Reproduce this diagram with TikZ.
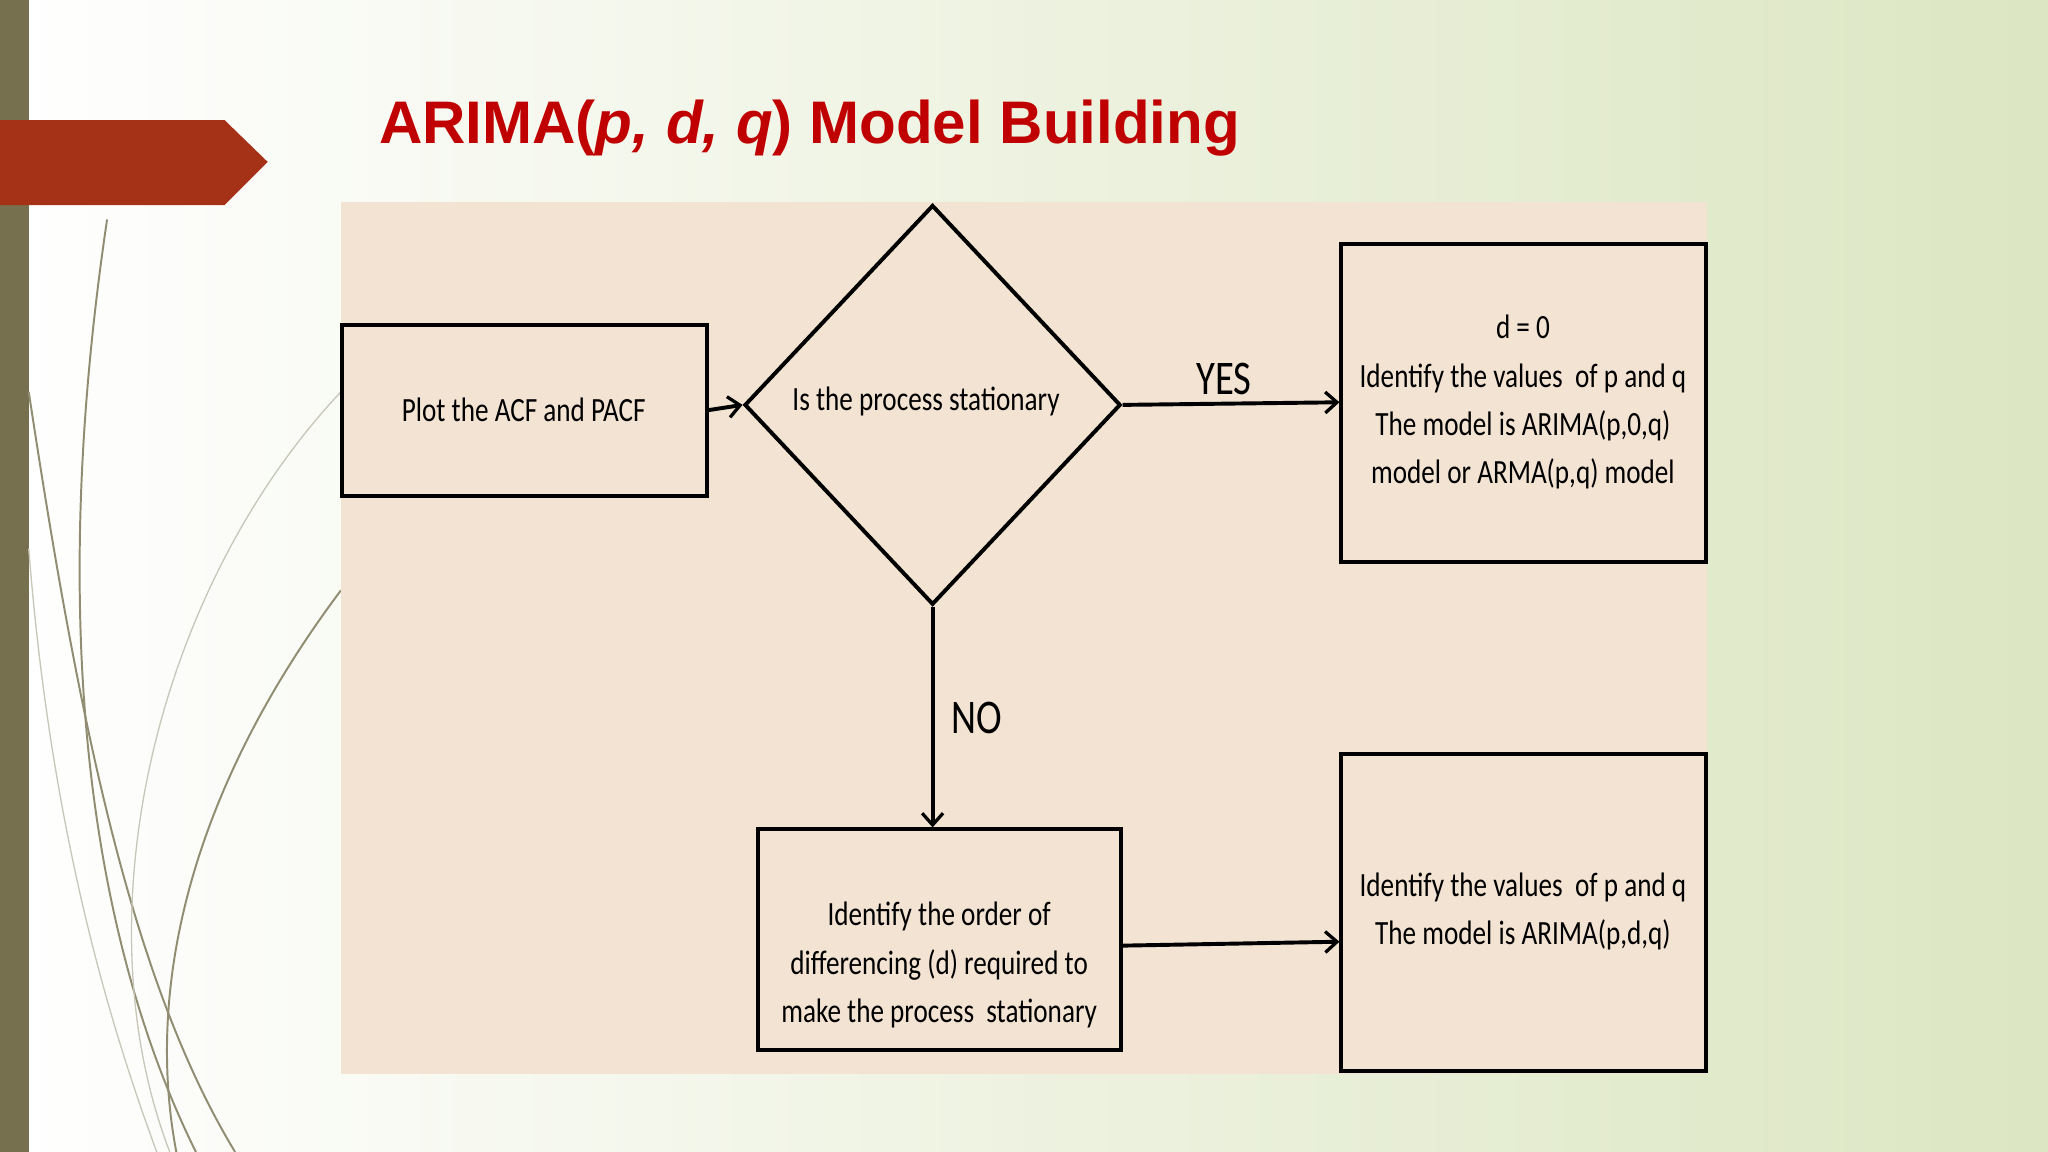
\documentclass[tikz,border=0pt]{standalone}
\usepackage{fontspec}
\setmainfont{Carlito}[FakeStretch=0.8]
\newfontfamily\titlef{Liberation Sans}
\usetikzlibrary{shapes.geometric,arrows.meta}
\definecolor{peach}{HTML}{F3E3D2}
\definecolor{titred}{HTML}{C00000}
\definecolor{barc}{HTML}{76704F}
\definecolor{arrc}{HTML}{A53117}
\definecolor{bgg}{HTML}{DCE6C2}
\begin{document}
\begin{tikzpicture}[x=1pt,y=-1pt,
  box/.style={draw=black,line width=3pt,fill=peach,inner sep=0pt},
  txt/.style={align=center,font=\fontsize{26}{37}\selectfont,inner sep=0pt},
  conn/.style={line width=3pt,-{Straight Barb[length=9pt,width=16pt,line width=2.5pt]}},
  lbl/.style={font=\fontsize{37}{40}\selectfont}]
\useasboundingbox (0,0) rectangle (1568,882);
\shade[left color=white,right color=bgg] (0,0) rectangle (1568,882);
\fill[barc] (0,0) rectangle (22,882);
% decorative curves
\begin{scope}[barc!80,line width=1.5pt]
\draw (82,168) .. controls (40,450) and (60,700) .. (150,882);
\draw (22,300) .. controls (60,550) and (100,750) .. (180,882);
\draw[line width=1pt,barc!40] (261,300) .. controls (120,450) and (60,700) .. (130,882);
\draw (261,452) .. controls (150,600) and (110,750) .. (135,882);
\draw[line width=1pt,barc!40] (22,420) .. controls (40,650) and (90,800) .. (120,882);
\end{scope}
\fill[arrc] (0,92) -- (172,92) -- (205,124) -- (172,157) -- (0,157) -- cycle;
\node[anchor=base west,text=titred,font=\titlef\bfseries\fontsize{46}{50}\selectfont,inner sep=0pt] (title) at (290,110) {ARIMA(\textit{p, d, q}) Model Building};
\fill[peach] (261,155) rectangle (1307,822);
\node[box,minimum width=279pt,minimum height=131pt] (plot) at (401.5,314.5) {};
\node[txt] (plott) at (401,314) {Plot the ACF and PACF};
\node[draw=black,line width=3pt,diamond,shape aspect=0.94,minimum width=288pt,minimum height=306pt,inner sep=0pt] (dia) at (714,310) {};
\node[txt] (diat) at (709,307) {Is the process stationary};
\node[box,minimum width=279pt,minimum height=243pt] (yes) at (1166.5,308.5) {};
\node[txt] (yest) at (1166,308) {d = 0\\Identify the values \ of p and q\\The model is ARIMA(p,0,q)\\model or ARMA(p,q) model};
\node[box,minimum width=278pt,minimum height=169pt] (diff) at (719,719.5) {};
\node[txt] (difft) at (719,739) {Identify the order of\\differencing (d) required to\\make the process \ stationary};
\node[box,minimum width=279pt,minimum height=243pt] (arima) at (1166.5,698.5) {};
\node[txt] (arimat) at (1166,698) {Identify the values \ of p and q\\The model is ARIMA(p,d,q)};
\draw[conn] (plot.east |- 0,314) -- (dia.west);
\draw[conn] (dia.east) -- (yes.west |- 0,308);
\draw[conn] (dia.south) -- (diff.north -| dia.south);
\draw[conn] (diff.east |- 0,724) -- (arima.west |- 0,721);
\node[lbl] (y) at (937,290) {YES};
\node[lbl] (n) at (748,550) {NO};
\end{tikzpicture}
\end{document}
